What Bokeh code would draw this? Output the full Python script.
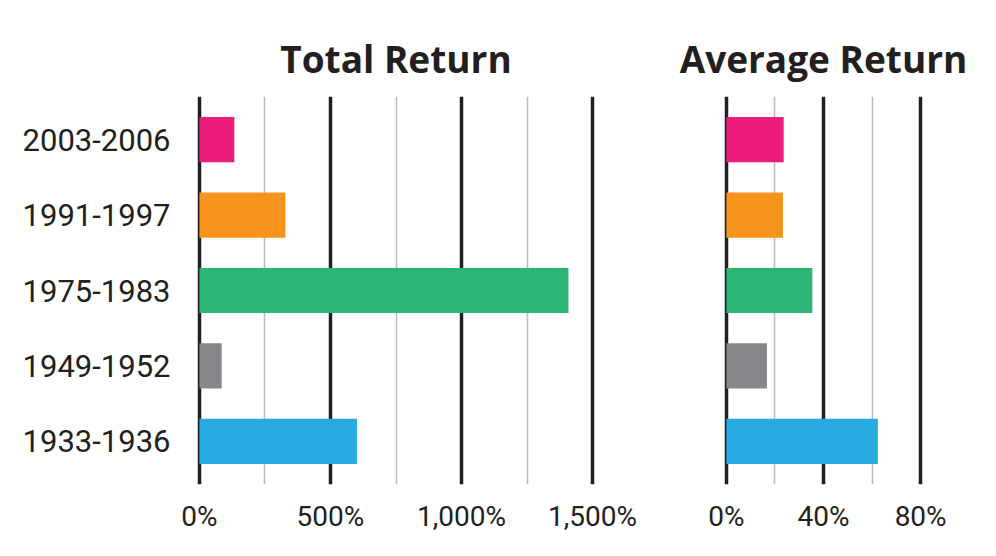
from bokeh.plotting import figure
from bokeh.layouts import row
from bokeh.models import FactorRange, Range1d, FixedTicker, Title
from bokeh.embed import file_html
from bokeh.resources import INLINE

# ---- data ----
periods = ["2003-2006", "1991-1997", "1975-1983", "1949-1952", "1933-1936"]
colors = ["#ED1E79", "#F7941D", "#2BB673", "#87878B", "#27AAE1"]
total_return = [133, 328, 1408, 85, 601]          # percent
average_return = [23.6, 23.3, 35.4, 16.7, 62.4]   # percent

total_ticks = [0, 500, 1000, 1500]
total_tick_labels = ["0%", "500%", "1,000%", "1,500%"]
total_minor = [250, 750, 1250]

avg_ticks = [0, 40, 80]
avg_tick_labels = ["0%", "40%", "80%"]
avg_minor = [20, 60]

TEXT = "#231F20"
LABEL_FONT = "Roboto"
TITLE_FONT = "Open Sans"

factors = list(reversed(periods))


def make_panel(title, values, ticks, tick_labels, minor, xr, frame_w, show_y, mbl, mbr):
    yr = FactorRange(factors=factors, range_padding=0.073, range_padding_units="absolute")
    p = figure(y_range=yr, x_range=xr, frame_width=frame_w, frame_height=388,
               output_backend="svg", toolbar_location=None,
               min_border_left=mbl, min_border_right=mbr, min_border_top=96,
               min_border_bottom=55, background_fill_color="white",
               border_fill_color="white", outline_line_color=None)
    t = Title(text=title, align="center", text_font=TITLE_FONT,
              text_font_size="37px", text_font_style="bold", text_color=TEXT,
              standoff=26)
    p.add_layout(t, "above")
    p.hbar(y=periods, right=values, left=0, height=0.6, fill_color=colors,
           line_color=None)
    ticker = FixedTicker(ticks=ticks, minor_ticks=minor)
    p.xaxis.ticker = ticker
    p.xgrid.ticker = ticker
    p.xgrid.grid_line_color = TEXT
    p.xgrid.grid_line_width = 3.5
    p.xgrid.grid_line_alpha = 1
    p.xgrid.minor_grid_line_color = "#BDBDBD"
    p.xgrid.minor_grid_line_width = 1.6
    p.ygrid.grid_line_color = None
    p.xaxis.major_label_overrides = dict(zip(ticks, tick_labels))
    p.xaxis.axis_line_color = None
    p.xaxis.major_tick_line_color = None
    p.xaxis.minor_tick_line_color = None
    p.xaxis.major_label_text_font = LABEL_FONT
    p.xaxis.major_label_text_font_size = "28px"
    p.xaxis.major_label_text_color = TEXT
    p.xaxis.major_label_standoff = 9
    p.yaxis.axis_line_color = None
    p.yaxis.major_tick_line_color = None
    p.yaxis.minor_tick_line_color = None
    p.yaxis.major_label_text_font = LABEL_FONT
    p.yaxis.major_label_text_font_size = "31px"
    p.yaxis.major_label_text_color = TEXT
    p.yaxis.major_label_standoff = 19
    p.yaxis.visible = show_y
    return p


left = make_panel("Total Return", total_return, total_ticks, total_tick_labels,
                  total_minor, Range1d(-15, 1515), 401, True, 195, 60)
right = make_panel("Average Return", average_return, avg_ticks, avg_tick_labels,
                   avg_minor, Range1d(-1.6, 81.6), 202, False, 66, 56)

layout = row(left, right)
open("out.html", "w").write(file_html(layout, INLINE))
